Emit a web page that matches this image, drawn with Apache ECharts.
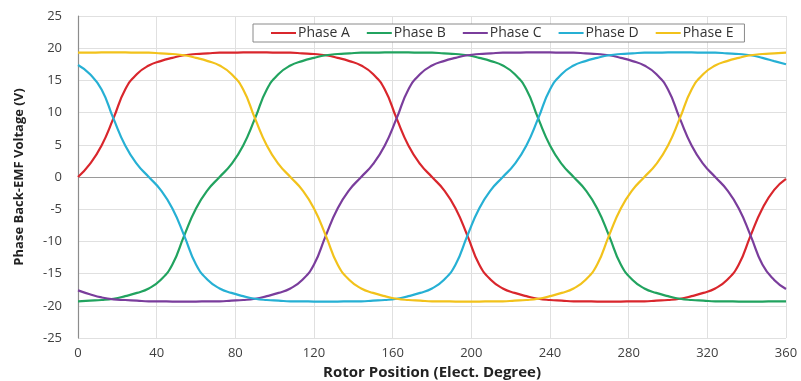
<!DOCTYPE html>
<html>
<head>
<meta charset="utf-8">
<script src="https://cdn.jsdelivr.net/npm/echarts@6/dist/echarts.min.js"></script>
<style>
  html, body { margin: 0; padding: 0; background: #fff; }
  #chart { width: 801px; height: 381px; }
</style>
</head>
<body>
<div id="chart"></div>
<script>
// Rotor position samples (electrical degrees), every 6 degrees
const theta = [
  0, 6, 12, 18, 24, 30, 36, 42, 48, 54, 60, 66, 72, 78, 84, 90,
  96, 102, 108, 114, 120, 126, 132, 138, 144, 150, 156, 162, 168, 174, 180,
  186, 192, 198, 204, 210, 216, 222, 228, 234, 240, 246, 252, 258, 264, 270,
  276, 282, 288, 294, 300, 306, 312, 318, 324, 330, 336, 342, 348, 354, 360
];

// Phase back-EMF voltages (V)
const phaseA = [
  0, 2.0, 4.9, 9.1, 13.6, 16.0, 17.3, 18.0, 18.5, 18.9, 19.1, 19.2, 19.3, 19.3, 19.35, 19.35,
  19.35, 19.3, 19.3, 19.2, 19.1, 18.9, 18.5, 18.0, 17.3, 16.0, 13.6, 9.1, 4.9, 2.0, 0,
  -2.0, -4.9, -9.1, -13.6, -16.0, -17.3, -18.0, -18.5, -18.9, -19.1, -19.2, -19.3, -19.3, -19.35, -19.35,
  -19.35, -19.3, -19.3, -19.2, -19.1, -18.9, -18.5, -18.0, -17.3, -16.0, -13.6, -9.1, -4.9, -2.0, -0.3
];
const phaseB = [
  -19.3, -19.2, -19.1, -18.9, -18.5, -18.0, -17.3, -16.0, -13.6, -9.1, -4.9, -2.0, 0, 2.0, 4.9, 9.1,
  13.6, 16.0, 17.3, 18.0, 18.5, 18.9, 19.1, 19.2, 19.3, 19.3, 19.35, 19.35, 19.35, 19.3, 19.3,
  19.2, 19.1, 18.9, 18.5, 18.0, 17.3, 16.0, 13.6, 9.1, 4.9, 2.0, 0, -2.0, -4.9, -9.1,
  -13.6, -16.0, -17.3, -18.0, -18.5, -18.9, -19.1, -19.2, -19.3, -19.3, -19.35, -19.35, -19.35, -19.3, -19.3
];
const phaseC = [
  -17.6, -18.2, -18.7, -19.0, -19.1, -19.2, -19.3, -19.3, -19.35, -19.35, -19.35, -19.3, -19.3, -19.2, -19.1, -18.9,
  -18.5, -18.0, -17.3, -16.0, -13.6, -9.1, -4.9, -2.0, 0, 2.0, 4.9, 9.1, 13.6, 16.0, 17.3,
  18.0, 18.5, 18.9, 19.1, 19.2, 19.3, 19.3, 19.35, 19.35, 19.35, 19.3, 19.3, 19.2, 19.1, 18.9,
  18.5, 18.0, 17.3, 16.0, 13.6, 9.1, 4.9, 2.0, 0, -2.0, -4.9, -9.1, -13.6, -16.0, -17.4
];
const phaseD = [
  17.4, 16.0, 13.6, 9.1, 4.9, 2.0, 0, -2.0, -4.9, -9.1, -13.6, -16.0, -17.3, -18.0, -18.5, -18.9,
  -19.1, -19.2, -19.3, -19.3, -19.35, -19.35, -19.35, -19.3, -19.3, -19.2, -19.1, -18.9, -18.5, -18.0, -17.3,
  -16.0, -13.6, -9.1, -4.9, -2.0, 0, 2.0, 4.9, 9.1, 13.6, 16.0, 17.3, 18.0, 18.5, 18.9,
  19.1, 19.2, 19.3, 19.3, 19.35, 19.35, 19.35, 19.3, 19.3, 19.2, 19.1, 18.9, 18.5, 18.0, 17.5
];
const phaseE = [
  19.3, 19.3, 19.35, 19.35, 19.35, 19.3, 19.3, 19.2, 19.1, 18.9, 18.5, 18.0, 17.3, 16.0, 13.6, 9.1,
  4.9, 2.0, 0, -2.0, -4.9, -9.1, -13.6, -16.0, -17.3, -18.0, -18.5, -18.9, -19.1, -19.2, -19.3,
  -19.3, -19.35, -19.35, -19.35, -19.3, -19.3, -19.2, -19.1, -18.9, -18.5, -18.0, -17.3, -16.0, -13.6, -9.1,
  -4.9, -2.0, 0, 2.0, 4.9, 9.1, 13.6, 16.0, 17.3, 18.0, 18.5, 18.9, 19.1, 19.2, 19.3
];

const seriesNames = ['Phase A', 'Phase B', 'Phase C', 'Phase D', 'Phase E'];
const seriesColors = ['#d9262c', '#21a35f', '#7a3d9c', '#26b0d4', '#f2c21b'];
const seriesValues = [phaseA, phaseB, phaseC, phaseD, phaseE];

const xTicks = { min: 0, max: 360, interval: 40 };
const yTicks = { min: -25, max: 25, interval: 5 };

const font = "'Open Sans', 'Noto Sans', sans-serif";

const chart = echarts.init(document.getElementById('chart'), null, { renderer: 'canvas' });

const series = seriesNames.map((name, k) => ({
  name: name,
  type: 'line',
  data: theta.map((t, i) => [t, seriesValues[k][i]]),
  smooth: 0.5,
  showSymbol: false,
  symbol: 'none',
  z: 3 + k,
  lineStyle: { color: seriesColors[k], width: 2.2 },
  itemStyle: { color: seriesColors[k] },
  markLine: k === 0 ? {
    silent: true,
    symbol: 'none',
    label: { show: false },
    lineStyle: { color: '#9a9a9a', width: 1.2, type: 'solid' },
    data: [{ yAxis: 0 }],
    z: 1
  } : undefined
}));

chart.setOption({
  animation: false,
  backgroundColor: '#ffffff',
  textStyle: { fontFamily: font },
  grid: {
    left: 78, right: 15, top: 16, bottom: 43,
    containLabel: false,
    outerBoundsMode: 'none'
  },
  legend: {
    data: seriesNames,
    left: 253,
    top: 24,
    backgroundColor: '#ffffff',
    borderColor: '#8a8a8a',
    borderWidth: 1,
    borderRadius: 0,
    padding: [2, 11, 2, 18],
    itemGap: 17,
    itemWidth: 25,
    itemHeight: 2,
    icon: 'rect',
    textStyle: {
      fontFamily: font, fontSize: 14, color: '#333',
      width: 58, padding: [0, 0, 0, -3]
    }
  },
  xAxis: {
    type: 'value',
    min: xTicks.min,
    max: xTicks.max,
    interval: xTicks.interval,
    name: 'Rotor Position (Elect. Degree)',
    nameLocation: 'middle',
    nameGap: 27,
    nameTextStyle: { fontFamily: font, fontSize: 15, fontWeight: 'bold', color: '#222' },
    axisLine: { show: false },
    axisTick: { show: false },
    axisLabel: { fontFamily: font, fontSize: 13, color: '#404040', margin: 9 },
    splitLine: { show: true, lineStyle: { color: '#e0e0e0', width: 1 } }
  },
  yAxis: {
    type: 'value',
    min: yTicks.min,
    max: yTicks.max,
    interval: yTicks.interval,
    name: 'Phase Back-EMF Voltage (V)',
    nameLocation: 'middle',
    nameGap: 52,
    nameRotate: 90,
    nameTextStyle: { fontFamily: font, fontSize: 13, fontWeight: 'bold', color: '#222' },
    axisLine: { show: true, onZero: false, lineStyle: { color: '#8c8c8c', width: 1.2 } },
    axisTick: { show: false },
    axisLabel: { fontFamily: font, fontSize: 13, color: '#404040', margin: 16 },
    splitLine: { show: true, lineStyle: { color: '#e0e0e0', width: 1 } }
  },
  series: series
});
</script>
</body>
</html>
